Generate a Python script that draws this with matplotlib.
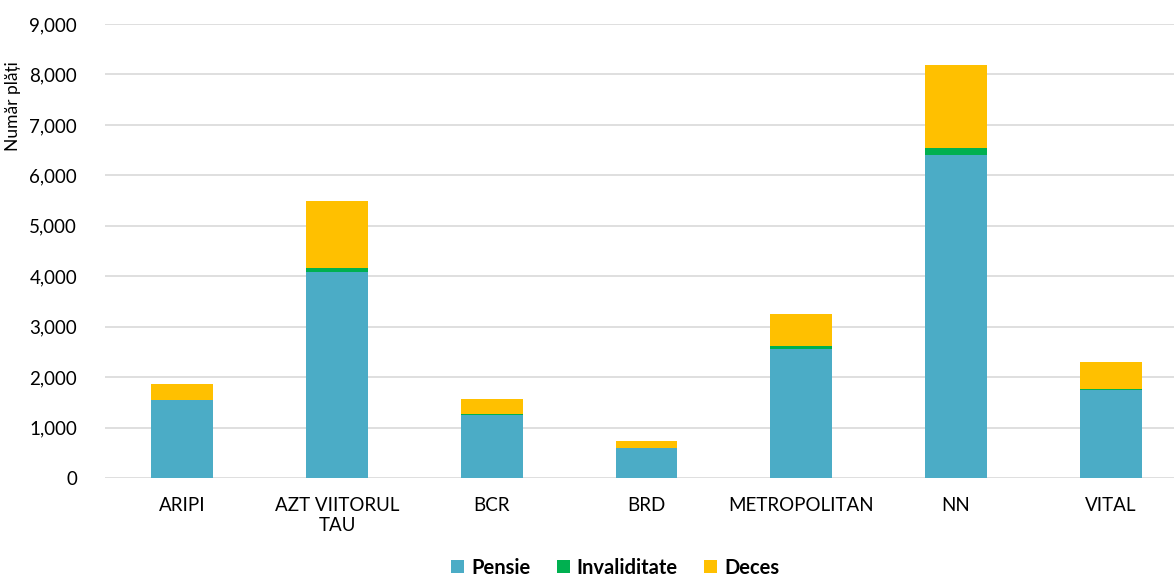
import numpy as np
import matplotlib
matplotlib.use("Agg")
import matplotlib.pyplot as plt
from matplotlib.ticker import FuncFormatter

plt.rcParams['font.family'] = ['Lato', 'DejaVu Sans']

categories = ["ARIPI", "AZT VIITORUL\nTAU", "BCR", "BRD", "METROPOLITAN", "NN", "VITAL"]
pensie = [1540, 4080, 1255, 595, 2560, 6400, 1745]
invaliditate = [10, 85, 20, 5, 50, 135, 25]
deces = [307, 1327, 291, 133, 641, 1645, 536]

fig = plt.figure(figsize=(11.74, 5.8), dpi=100)
ax = fig.add_axes([105 / 1174, 102 / 580, 1069 / 1174, 454 / 580])

x = np.arange(len(categories))
w = 0.4
pensie = np.array(pensie)
invaliditate = np.array(invaliditate)
deces = np.array(deces)
ax.bar(x, pensie, w, color="#4BACC6", label="Pensie", zorder=3)
ax.bar(x, invaliditate, w, bottom=pensie, color="#00B050", label="Invaliditate", zorder=3)
ax.bar(x, deces, w, bottom=pensie + invaliditate, color="#FFC000", label="Deces", zorder=3)

ax.set_xlim(-0.5, 6.41)
ax.set_ylim(0, 9000)
ax.set_yticks(np.arange(0, 9001, 1000))
ax.yaxis.set_major_formatter(FuncFormatter(lambda v, p: f"{int(v):,}"))
ax.set_xticks(x)
ax.set_xticklabels(categories, fontsize=13.5)
ax.tick_params(axis="y", labelsize=13.5, length=0, pad=20)
ax.tick_params(axis="x", length=0, pad=14)
ax.grid(axis="y", color="#D9D9D9", linewidth=1.2, zorder=0)
for s in ax.spines.values():
    s.set_visible(False)

ax.set_ylabel("Număr plăți", fontsize=12.5)
ax.yaxis.set_label_coords(-84 / 1069, 0.82)

leg = fig.legend(loc="lower center", bbox_to_anchor=(0.524, -0.027), ncol=3, frameon=False,
                 prop={"weight": "bold", "size": 14.5}, handlelength=0.65, handleheight=0.65,
                 handletextpad=0.35, columnspacing=1.3)

fig.savefig("out.png", dpi=100)
